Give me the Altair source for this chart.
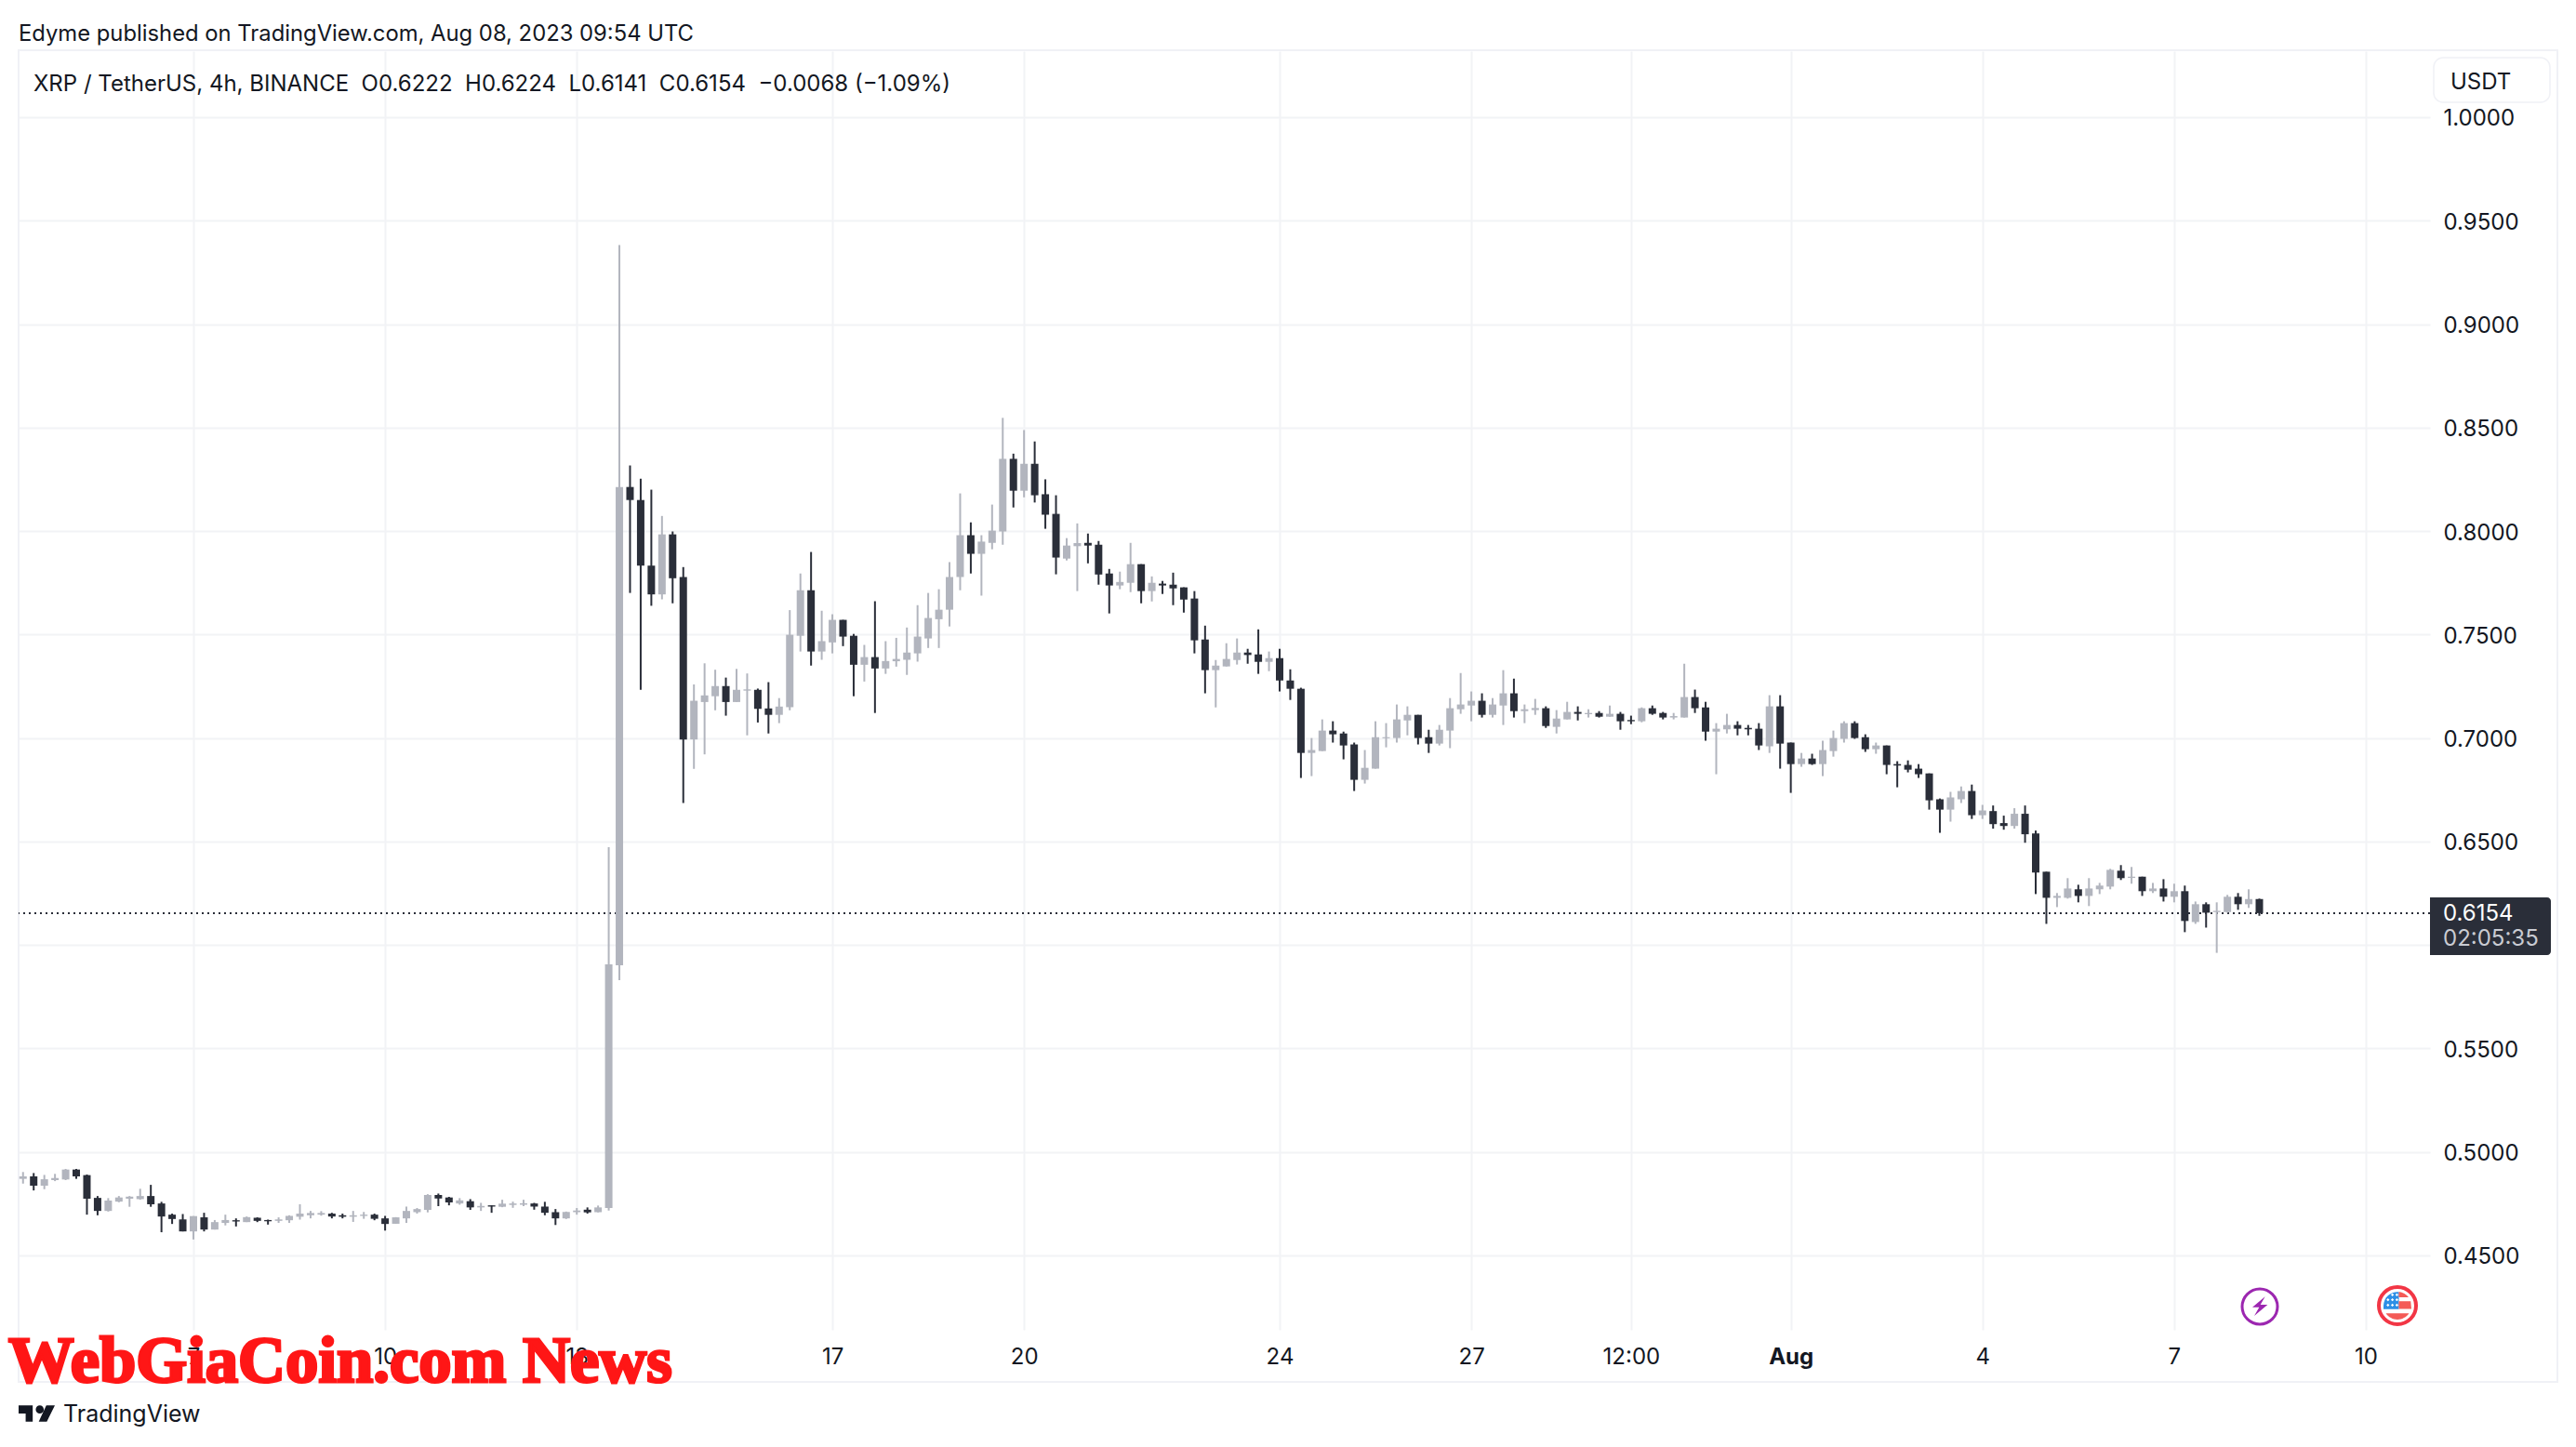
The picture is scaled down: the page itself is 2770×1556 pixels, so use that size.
import altair as alt
import pandas as pd

opens = [.4870,.4882,.4837,.4864,.4867,.4915,.4888,.4778,.4715,.4760,.4774,.4772,.4787,.4751,.4697,.4674,.4616,.4684,.4625,.4657,.4670,.4661,.4682,.4671,.4667,.4670,.4687,.4694,.4697,.4702,.4694,.4687,.4691,.4697,.4679,.4653,.4679,.4709,.4720,.4792,.4780,.4751,.4762,.4732,.4742,.4735,.4744,.4745,.4751,.4736,.4709,.4679,.4709,.4721,.4709,.4729,
.5902,.8213,.8150,.7833,.7694,.7984,.7778,.6993,.7174,.7202,.7251,.7174,.7229,.7233,.7143,.7112,.7149,.7494,.7714,.7418,.7462,.7571,.7494,.7354,.7391,.7336,.7371,.7378,.7409,.7481,.7574,.7620,.7778,.7980,.7890,.7943,.7998,.8349,.8195,.8325,.8178,.8083,
.7867,.7927,.7943,.7934,.7795,.7737,.7750,.7840,.7710,.7746,.7741,.7728,.7674,.7476,.7328,.7346,.7377,.7413,.7404,.7368,.7386,.7278,.7238,.6928,.6937,.7036,.7022,.6969,.6798,.6852,.6999,.7000,.7085,.7112,.7004,.6973,.7036,.7139,.7157,.7180,.7112,.7157,.7216,
.7130,.7135,.7144,.7054,.7090,.7126,.7115,.7121,.7103,.7117,.7087,.7081,.7144,.7121,.7099,.7099,.7198,.7148,.7031,.7042,.7063,.7049,.7045,.6960,.7153,.6978,.6874,.6901,.6874,.6937,.6996,.7072,.7004,.6946,.6964,.6874,.6870,.6852,.6829,.6704,.6654,.6704,.6744,.6627,
.6647,.6589,.6575,.6634,.6539,.6354,.6228,.6228,.6269,.6237,.6269,.6282,.6359,.6324,.6330,.6260,.6273,.6233,.6260,.6111,.6197,.6159,.6159,.6233,.6197,.6222]
highs = [.4903,.4898,.4889,.4894,.4918,.4918,.4891,.4787,.4777,.4787,.4787,.4822,.4841,.4759,.4702,.4700,.4690,.4706,.4671,.4697,.4679,.4688,.4684,.4673,.4684,.4694,.4747,.4715,.4714,.4706,.4702,.4715,.4710,.4702,.4691,.4685,.4736,.4729,.4796,.4799,.4783,.4777,.4772,.4754,.4742,.4769,.4760,.4769,.4754,.4759,.4724,.4712,.4729,.4732,.4741,.6473,
.9382,.8317,.8253,.8200,.8073,.7998,.7826,.7259,.7361,.7330,.7292,.7334,.7312,.7239,.7270,.7193,.7618,.7795,.7899,.7615,.7598,.7571,.7503,.7450,.7661,.7468,.7484,.7534,.7642,.7701,.7719,.7850,.8182,.8042,.7980,.8128,.8547,.8374,.8488,.8433,.8250,.8173,
.7966,.8037,.7988,.7952,.7817,.7804,.7943,.7840,.7781,.7759,.7799,.7728,.7710,.7543,.7377,.7458,.7481,.7431,.7525,.7418,.7431,.7332,.7243,.7000,.7090,.7081,.7031,.6978,.6942,.7081,.7072,.7162,.7153,.7112,.7040,.7063,.7193,.7314,.7225,.7216,.7193,.7328,.7287,
.7162,.7189,.7153,.7135,.7175,.7153,.7139,.7130,.7157,.7126,.7108,.7148,.7157,.7126,.7121,.7359,.7234,.7175,.7072,.7117,.7081,.7063,.7072,.7207,.7207,.6978,.6928,.6924,.6987,.7036,.7081,.7081,.7018,.6978,.6964,.6888,.6892,.6874,.6829,.6708,.6740,.6766,.6775,.6677,
.6674,.6625,.6661,.6674,.6553,.6354,.6251,.6323,.6291,.6323,.6300,.6368,.6386,.6377,.6330,.6300,.6318,.6296,.6287,.6210,.6206,.6206,.6242,.6251,.6269,.6224]
lows = [.4847,.4814,.4820,.4859,.4864,.4870,.4697,.4694,.4712,.4757,.4735,.4769,.4735,.4612,.4652,.4616,.4577,.4616,.4625,.4645,.4640,.4661,.4661,.4649,.4657,.4657,.4673,.4679,.4692,.4679,.4679,.4662,.4677,.4670,.4620,.4653,.4657,.4702,.4708,.4738,.4742,.4745,.4720,.4715,.4706,.4733,.4730,.4738,.4721,.4694,.4647,.4676,.4697,.4702,.4708,.4717,
.5830,.7701,.7233,.7639,.7670,.7651,.6686,.6851,.6921,.7134,.7108,.7174,.7013,.7075,.7022,.7072,.7134,.7418,.7350,.7378,.7409,.7444,.7202,.7273,.7121,.7310,.7345,.7305,.7369,.7435,.7435,.7539,.7714,.7795,.7688,.7912,.7934,.8114,.8163,.8138,.8011,.7791,
.7858,.7710,.7844,.7741,.7602,.7719,.7705,.7651,.7660,.7696,.7642,.7606,.7409,.7216,.7148,.7346,.7355,.7359,.7310,.7323,.7225,.7184,.6807,.6816,.6937,.6978,.6897,.6744,.6780,.6852,.6955,.6978,.7013,.6969,.6928,.6964,.6951,.7117,.7081,.7099,.7099,.7063,.7099,
.7072,.7112,.7049,.7022,.7090,.7085,.7099,.7099,.7103,.7040,.7067,.7076,.7112,.7090,.7090,.7099,.7121,.6987,.6825,.7022,.7013,.7013,.6942,.6928,.6852,.6735,.6861,.6870,.6816,.6910,.6978,.6996,.6933,.6924,.6825,.6762,.6834,.6807,.6654,.6542,.6596,.6686,.6609,.6609,
.6562,.6557,.6562,.6494,.6246,.6102,.6183,.6224,.6206,.6188,.6246,.6269,.6314,.6296,.6237,.6251,.6210,.6206,.6062,.6102,.6084,.5962,.6156,.6170,.6179,.6141]
closes = [.4882,.4837,.4868,.4874,.4915,.4882,.4774,.4715,.4765,.4780,.4784,.4787,.4747,.4688,.4676,.4616,.4690,.4625,.4661,.4671,.4664,.4685,.4667,.4665,.4674,.4691,.4702,.4705,.4705,.4688,.4687,.4694,.4697,.4677,.4652,.4684,.4715,.4724,.4792,.4775,.4756,.4766,.4732,.4739,.4736,.4750,.4751,.4752,.4736,.4706,.4679,.4710,.4717,.4708,.4732,.5906,
.8213,.8150,.7833,.7694,.7984,.7772,.6993,.7180,.7206,.7251,.7174,.7233,.7235,.7141,.7112,.7152,.7499,.7714,.7418,.7468,.7571,.7490,.7354,.7391,.7336,.7372,.7382,.7413,.7490,.7580,.7620,.7778,.7980,.7890,.7949,.8002,.8349,.8195,.8325,.8173,.8079,.7872,
.7930,.7942,.7930,.7790,.7737,.7754,.7840,.7710,.7750,.7737,.7723,.7669,.7472,.7328,.7350,.7382,.7413,.7401,.7368,.7386,.7278,.7238,.6928,.6942,.7036,.7018,.6964,.6798,.6856,.7004,.7004,.7090,.7112,.7000,.6973,.7040,.7144,.7162,.7180,.7112,.7162,.7216,.7130,
.7139,.7145,.7058,.7094,.7126,.7117,.7121,.7103,.7117,.7081,.7081,.7144,.7117,.7099,.7106,.7198,.7144,.7031,.7045,.7063,.7045,.7042,.6964,.7153,.6973,.6874,.6901,.6874,.6942,.7000,.7072,.7000,.6946,.6964,.6870,.6867,.6847,.6825,.6699,.6654,.6713,.6744,.6627,.6650,
.6584,.6575,.6634,.6535,.6350,.6228,.6237,.6273,.6237,.6273,.6287,.6363,.6323,.6330,.6260,.6273,.6233,.6260,.6116,.6197,.6156,.6165,.6233,.6197,.6222,.6154]

first_candle = "2023-07-04 08:00"
tick_dates = ["2023-07-07", "2023-07-10", "2023-07-13", "2023-07-17", "2023-07-20", "2023-07-24",
              "2023-07-27", "2023-07-29 12:00", "2023-08-01", "2023-08-04", "2023-08-07", "2023-08-10"]
tick_labels = ["7", "10", "13", "17", "20", "24", "27", "12:00", "Aug", "4", "7", "10"]
price_ticks = [0.45, 0.50, 0.55, 0.60, 0.65, 0.70, 0.75, 0.80, 0.85, 0.90, 0.95, 1.00]
last_price = 0.6154

UP = "#B2B5BE"
DOWN = "#2A2E39"
GRID = "#F2F3F6"
INK = "#131722"
FONT = "Inter"


def ms(s):
    return int(pd.Timestamp(s, tz="UTC").value // 10**6)


times = pd.date_range(first_candle, periods=len(closes), freq="4h")
df = pd.DataFrame({
    "t": times.strftime("%Y-%m-%dT%H:%M:00Z"),
    "open": opens, "high": highs, "low": lows, "close": closes,
    "dir": ["up" if c >= o else "down" for o, c in zip(opens, closes)],
})

tick_ms = [ms(d) for d in tick_dates]
label_map = ",".join(f"'{m}':'{l}'" for m, l in zip(tick_ms, tick_labels))
aug_ms = ms("2023-08-01")

x_scale = alt.Scale(type="utc", domain=[ms("2023-07-04 06:20"), ms("2023-08-11 00:06")], padding=0)
y_scale = alt.Scale(domain=[0.41405, 1.03189], zero=False, nice=False)
color = alt.Color("dir:N", scale=alt.Scale(domain=["up", "down"], range=[UP, DOWN]), legend=None)

x_axis = alt.Axis(
    values=tick_ms, title=None, domain=False, ticks=False, grid=True, gridColor=GRID, gridWidth=2,
    labelExpr="{" + label_map + "}['' + (+datum.value)]",
    labelFontSize=24, labelFont=FONT, labelColor=INK, labelPadding=17, labelFlush=False, labelOverlap=False,
    labelFontWeight={"condition": {"test": f"+datum.value == {aug_ms}", "value": 700}, "value": 400},
)
y_axis = alt.Axis(
    values=price_ticks, orient="right", format=".4f", title=None, domain=False, ticks=False, grid=True,
    gridColor=GRID, gridWidth=2, labelFontSize=24, labelFont=FONT, labelColor=INK, labelPadding=14,
    labelOffset=2,
)

price_line = alt.Chart(pd.DataFrame({"p": [last_price]})).mark_rule(
    color=DOWN, strokeWidth=2, strokeDash=[2, 4]
).encode(y=alt.Y("p:Q", scale=y_scale, axis=y_axis))
wicks = alt.Chart(df).mark_rule(strokeWidth=2).encode(
    x=alt.X("t:T", scale=x_scale, axis=x_axis),
    y=alt.Y("low:Q", scale=y_scale, axis=y_axis), y2="high:Q", color=color,
)
bodies = alt.Chart(df).mark_bar(size=8, orient="vertical").encode(
    x=alt.X("t:T", scale=x_scale, axis=x_axis),
    y=alt.Y("open:Q", scale=y_scale, axis=y_axis), y2="close:Q", color=color,
)

ONE = alt.Data(values=[{"k": 1}])
OX, OY = 20, 55  # top-left of the plot area on the page


def label(fx, fy, s, size=26, col=INK, font=FONT, **kw):
    return alt.Chart(ONE).mark_text(text=s, align=kw.pop("align", "left"), baseline=kw.pop("baseline", "middle"),
                                    fontSize=size, font=font, color=col, **kw).encode(
        x=alt.value(fx - OX), y=alt.value(fy - OY))


def icon(fx, fy, path, px, col, filled=True, stroke_w=0):
    args = dict(shape=path, size=px * px, opacity=1)
    if filled:
        args.update(filled=True, fill=col, strokeWidth=0)
    else:
        args.update(filled=False, stroke=col, strokeWidth=stroke_w)
    return alt.Chart(ONE).mark_point(**args).encode(x=alt.value(fx - OX), y=alt.value(fy - OY))


def box(x0, x1, y0, y1, **kw):
    return alt.Chart(ONE).mark_rect(**kw).encode(
        x=alt.value(x0 - OX), x2=alt.value(x1 - OX), y=alt.value(y0 - OY), y2=alt.value(y1 - OY))


frame = box(20, 2750, 54, 1486, fill="transparent", stroke="#F0F1F6", strokeWidth=2)
usdt_box = box(2617, 2742, 62, 110, fill="white", stroke="#F0F1F6", strokeWidth=1.5, cornerRadius=10)
usdt = label(2635, 88.5, "USDT", size=24)
price_box = box(2613, 2743, 965, 1027, fill=DOWN, cornerRadiusTopRight=4, cornerRadiusBottomRight=4)
price_txt = label(2627, 983, "0.6154", size=24, col="#FFFFFF")
count_txt = label(2627, 1010, "02:05:35", size=24, col="#C9CBD2")

SP = "\u00a0\u00a0"
header = label(20, 37, "Edyme published on TradingView.com, Aug 08, 2023 09:54 UTC", size=23.8)
legend = label(36, 90.5, f"XRP / TetherUS, 4h, BINANCE{SP}O0.6222{SP}H0.6224{SP}L0.6141{SP}C0.6154{SP}\u22120.0068 (\u22121.09%)", size=24)
watermark = label(9, 1486, "WebGiaCoin.com News", size=70.6, col="#FF1616", font="Liberation Serif",
                  fontWeight="bold", baseline="alphabetic", stroke="#FF1616", strokeWidth=3)
tv_text = label(68, 1521, "TradingView", size=25)

tv_logo = icon(39.5, 1520,
               "M-.222 -.444 H-1 V0 H-.611 V.444 H-.222 Z "
               "M.556 .444 H.111 L.528 -.444 H1 Z "
               "M.167 -.444 A.222 .222 0 1 1 .167 0 A.222 .222 0 1 1 .167 -.444 Z", 39, INK)

bolt_ring = icon(2430, 1405, "circle", 38, "#9C27B0", filled=False, stroke_w=3)
bolt = icon(2430, 1405, "M.515 -.97 L-.727 .06 L-.06 .06 L-.545 .91 L.757 -.18 L.06 -.18 Z", 22, "#9C27B0")

flag_ring = icon(2578, 1404, "circle", 40, "#F23645", filled=False, stroke_w=4)
flag_blue = icon(2578, 1404, "M.1 -.98 A1 1 0 0 0 -1 0 L-1 .25 L.1 .25 Z", 30, "#2D8FE6")
flag_red = icon(2578, 1404,
                "M.1 -1 A1 1 0 0 1 .8 -.6 L.1 -.6 Z M.1 -.31 L.95 -.31 L1 .24 L.1 .24 Z "
                "M-.83 .55 L.83 .55 A1 1 0 0 1 -.83 .55 Z", 30, "#F45B57")
star_pos = [(-.36, -.78), (-.04, -.78), (-.68, -.42), (-.36, -.42), (-.04, -.42), (-.68, -.04), (-.36, -.04), (-.04, -.04)]
stars = " ".join(f"M{a} {b - .11} L{a + .11} {b} L{a} {b + .11} L{a - .11} {b} Z" for a, b in star_pos)
flag_stars = icon(2578, 1404, stars, 30, "#FFFFFF")

chart = alt.layer(
    frame, price_line, wicks, bodies,
    usdt_box, usdt, price_box, price_txt, count_txt, header, legend,
    bolt_ring, bolt, flag_ring, flag_blue, flag_red, flag_stars,
    tv_logo, tv_text, watermark,
).properties(
    width=2593, height=1375,
    autosize=alt.AutoSizeParams(type="none"),
    padding={"left": 12, "top": 47, "right": 149, "bottom": 118},
    background="white",
).configure_view(strokeWidth=0)

chart.save("out.html", embed_options={"renderer": "svg", "actions": False})
